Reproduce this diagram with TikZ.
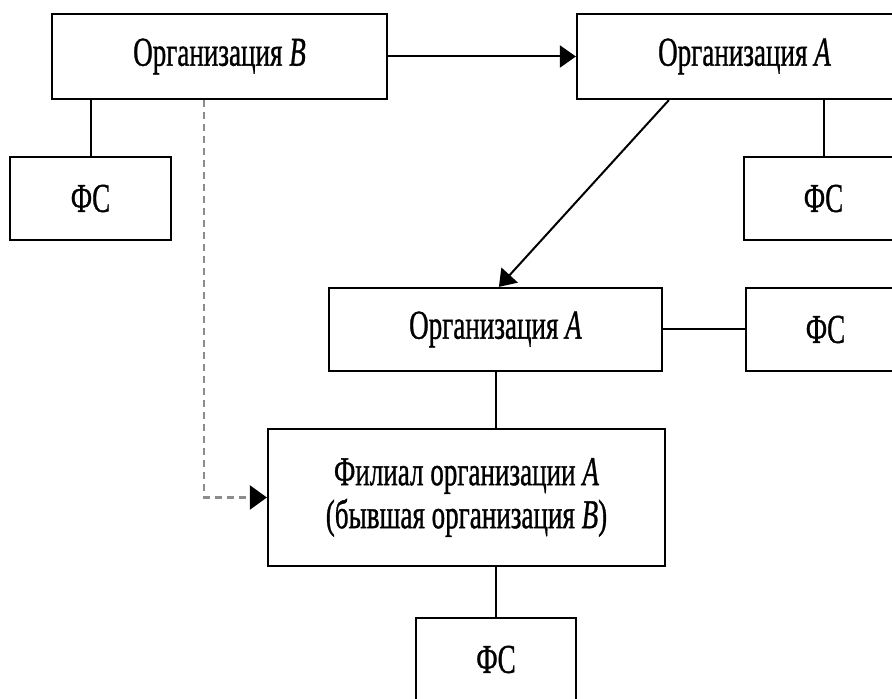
\documentclass[tikz,border=0pt]{standalone}
\usepackage{fontspec}
\usepackage{graphicx}
\setmainfont{Liberation Serif}[FakeBold=1.0]
\newcommand{\cond}[1]{\scalebox{0.66}[1]{#1}}
\usetikzlibrary{arrows.meta,calc}
\begin{document}
\begin{tikzpicture}[x=1pt,y=1pt,
  box/.style={draw=black,line width=2.2pt,fill=white,inner sep=0pt,
    font=\fontsize{41}{43}\selectfont,align=center},
  link/.style={draw=black,line width=2pt},
  arr/.style={link,-{Triangle[length=16pt,width=22pt]}},
  dashlink/.style={draw=black!45,line width=2.2pt,dash pattern=on 7pt off 5pt,
    -{Triangle[length=17pt,width=24pt,color=black,fill=black]}}]
\useasboundingbox (0,0) rectangle (892,699);
\clip (0,0) rectangle (892,699);
\node[box,minimum width=335pt,minimum height=85pt] (B) at (219.5,642.5) {\cond{Организация \textit{B}}};
\node[box,minimum width=335pt,minimum height=85pt] (A1) at (744.5,642.5) {\cond{Организация \textit{A}}};
\node[box,minimum width=161pt,minimum height=83pt] (FS1) at (90.5,500.5) {\cond{ФС}};
\node[box,minimum width=159pt,minimum height=83pt] (FS2) at (823.5,500.5) {\cond{ФС}};
\node[box,minimum width=333pt,minimum height=83pt] (A2) at (495.5,369.5) {\cond{Организация \textit{A}}};
\node[box,minimum width=159pt,minimum height=83pt] (FS3) at (825.5,369.5) {\cond{ФС}};
\node[box,minimum width=397pt,minimum height=137pt] (Br) at (466.5,201.5) {\cond{Филиал организации \textit{A}}\\\cond{(бывшая организация \textit{B})}};
\node[box,minimum width=160pt,minimum height=83pt] (FS4) at (496,39.5) {\cond{ФС}};
\draw[link] (B.south -| FS1.north) -- (FS1.north);
\draw[link] (A1.south -| FS2.north) -- (FS2.north);
\draw[arr] (B.east) -- (A1.west);
\draw[arr] ([xshift=93pt]A1.south west) -- ([xshift=171pt]A2.north west);
\draw[link] (A2.east) -- (FS3.west);
\draw[link] (A2.south) -- (A2.south |- Br.north);
\draw[link] (Br.south -| FS4.north) -- (FS4.north);
\draw[dashlink] ([xshift=153pt]B.south west) |- (Br.west);
\end{tikzpicture}
\end{document}
